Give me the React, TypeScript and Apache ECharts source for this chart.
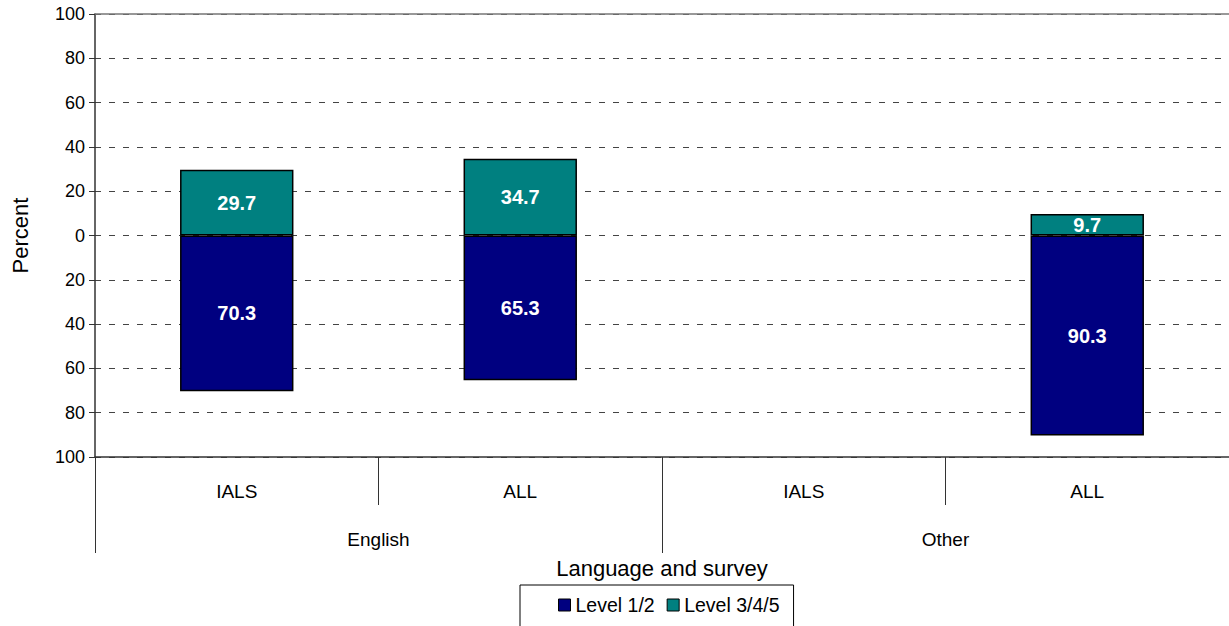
import React, { useEffect, useRef } from "react";
import * as echarts from "echarts";

const categories = ["IALS", "ALL", "IALS", "ALL"];
const groups = ["English", "Other"];
const level12 = [70.3, 65.3, null, 90.3];
const level345 = [29.7, 34.7, null, 9.7];
const yTicks = [-100, 100, 20];

export default function App() {
  const ref = useRef<HTMLDivElement>(null);
  useEffect(() => {
    if (!ref.current) return;
    const chart = echarts.init(ref.current, null, { renderer: "svg" });
    const font = "'Liberation Sans', Arial, sans-serif";
    const labelFmt = (p: any) => Math.abs(p.value).toFixed(1);
    chart.setOption({
      animation: false,
      textStyle: { fontFamily: font },
      grid: { left: 95, right: 0, top: 14, bottom: 169, containLabel: false },
      legend: {
        left: 520,
        top: 585,
        padding: [10, 14, 30, 38],
        borderColor: "#000",
        borderWidth: 1,
        itemWidth: 12,
        itemHeight: 12,
        itemGap: 12,
        icon: "rect",
        textStyle: { fontFamily: font, fontSize: 19.5, color: "#000" },
        data: [
          { name: "Level 1/2", itemStyle: { borderColor: "#000", borderWidth: 1 } },
          { name: "Level 3/4/5", itemStyle: { borderColor: "#000", borderWidth: 1 } },
        ],
      },
      xAxis: [
        {
          type: "category",
          data: categories,
          position: "bottom",
          axisLine: { show: true, onZero: false, lineStyle: { color: "#333", width: 1.5 } },
          axisTick: { show: true, length: 48, lineStyle: { color: "#333" } },
          axisLabel: { fontSize: 19, color: "#000", margin: 25, fontFamily: font },
          splitLine: { show: false },
        },
        {
          type: "category",
          data: groups,
          position: "bottom",
          axisLine: { show: false, onZero: false },
          axisTick: { show: true, length: 96, lineStyle: { color: "#333" } },
          axisLabel: { fontSize: 19, color: "#000", margin: 73, fontFamily: font },
          name: "Language and survey",
          nameLocation: "middle",
          nameGap: 100,
          nameTextStyle: { fontSize: 22, color: "#000", fontFamily: font },
        },
        {
          type: "category",
          data: categories,
          position: "top",
          axisLine: { show: true, onZero: false, lineStyle: { color: "#777", width: 1.5 } },
          axisTick: { show: false },
          axisLabel: { show: false },
        },
      ],
      yAxis: {
        type: "value",
        min: yTicks[0],
        max: yTicks[1],
        interval: yTicks[2],
        axisLine: { show: true, lineStyle: { color: "#333", width: 1.5 } },
        axisTick: { show: true, length: 6, lineStyle: { color: "#333" } },
        axisLabel: {
          fontSize: 18,
          color: "#000",
          margin: 10,
          fontFamily: font,
          formatter: (v: number) => String(Math.abs(v)),
        },
        splitLine: { show: true, lineStyle: { color: "#444", type: [6, 8], width: 1 } },
        name: "Percent",
        nameLocation: "middle",
        nameGap: 64,
        nameRotate: 90,
        nameTextStyle: { fontSize: 22, color: "#000", fontFamily: font },
      },
      series: [
        {
          name: "Level 1/2",
          type: "bar",
          stack: "s",
          xAxisIndex: 0,
          barWidth: "40%",
          data: level12.map((v) => (v == null ? null : -v)),
          itemStyle: { color: "#000080", borderColor: "#000", borderWidth: 1.5 },
          label: {
            show: true,
            position: "inside",
            color: "#fff",
            fontSize: 20,
            fontWeight: "bold",
            fontFamily: font,
            formatter: labelFmt,
          },
        },
        {
          name: "Level 3/4/5",
          type: "bar",
          stack: "s",
          xAxisIndex: 0,
          barWidth: "40%",
          data: level345,
          itemStyle: { color: "#008080", borderColor: "#000", borderWidth: 1.5 },
          label: {
            show: true,
            position: "inside",
            color: "#fff",
            fontSize: 20,
            fontWeight: "bold",
            fontFamily: font,
            formatter: labelFmt,
          },
        },
      ],
    });
    return () => chart.dispose();
  }, []);
  return (
    <div
      ref={ref}
      style={{ position: "fixed", left: 0, top: 0, width: 1229, height: 626, background: "#fff" }}
    />
  );
}
